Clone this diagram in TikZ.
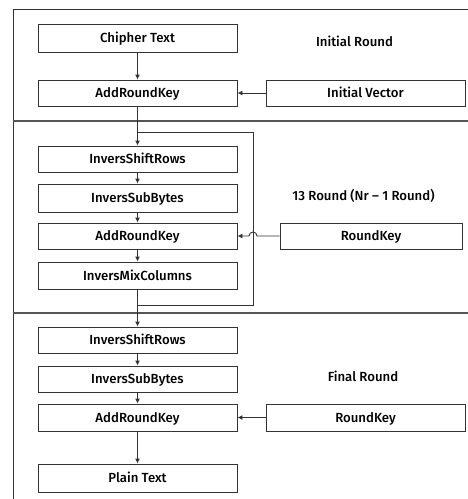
\documentclass[tikz,border=0pt]{standalone}
\usepackage{fontspec}
\setmainfont{Fira Sans}[UprightFont={* Medium}]
\usetikzlibrary{arrows.meta}
\definecolor{ln}{HTML}{333333}
\definecolor{sep}{HTML}{555555}
\tikzset{
  blk/.style={draw=ln, line width=0.9pt, minimum width=199pt, minimum height=26pt, inner sep=0pt, text height=9.1pt, text depth=0pt, font=\fontsize{13.2}{15}\selectfont},
  lbl/.style={font=\fontsize{13.2}{15}\selectfont, inner sep=0pt, text height=9.1pt, text depth=0pt},
  arr/.style={draw=ln, line width=0.9pt, -{Latex[length=5pt,width=5pt]}},
  wire/.style={draw=ln, line width=0.9pt},
  frame/.style={draw=ln, line width=1pt},
  sepline/.style={draw=sep, line width=1.6pt}
}
\begin{document}
\begin{tikzpicture}[x=1pt,y=-1pt]
\useasboundingbox (0,0) rectangle (468,499);
\clip (0,0) rectangle (468,499);
% frame
\draw[frame] (468,9) -- (13,9) -- (13,499);
\draw[sepline] (13,121) -- (468,121);
\draw[sepline] (13,313) -- (468,313);
% initial round
\node[blk, minimum height=28pt] (ct) at (137.5,38) {Chipher Text};
\node[blk] (ark1) at (137.5,93) {AddRoundKey};
\node[blk] (iv) at (365.5,93) {Initial Vector};
\node[lbl] (lab1) at (354.5,42) {Initial Round};
% middle rounds
\node[blk] (isr1) at (137.5,159) {InversShiftRows};
\node[blk, minimum height=28pt] (isb1) at (137.5,198) {InversSubBytes};
\node[blk] (ark2) at (137.5,236) {AddRoundKey};
\node[blk, minimum height=27pt] (imc) at (137.5,275.5) {InversMixColumns};
\node[blk, minimum width=182pt] (rk1) at (371,236) {RoundKey};
\node[lbl] (lab2) at (363.5,196) {13 Round (Nr -- 1 Round)};
% final round
\node[blk] (isr2) at (137.5,340) {InversShiftRows};
\node[blk] (isb2) at (137.5,379) {InversSubBytes};
\node[blk, minimum height=27pt] (ark3) at (137.5,417.5) {AddRoundKey};
\node[blk, minimum height=27pt] (rk2) at (365.5,417.5) {RoundKey};
\node[lbl] (lab3) at (363,377) {Final Round};
\node[blk, minimum height=28pt] (pt) at (137.5,478) {Plain Text};
% loop
\coordinate (lt) at (137.5,132);
\coordinate (lb) at (137.5,305);
\draw[wire] (lt) -- (253,132) -- (253,305) -- (lb);
% arrows
\draw[arr] (ct) -- (ark1);
\draw[arr] (iv) -- (ark1);
\draw[arr] (ark1) -- (isr1);
\draw[arr] (isr1) -- (isb1);
\draw[arr] (isb1) -- (ark2);
\draw[arr] (ark2) -- (imc);
\draw[arr] (imc) -- (isr2);
\draw[arr] (isr2) -- (isb2);
\draw[arr] (isb2) -- (ark3);
\draw[arr] (ark3) -- (pt);
\draw[arr] (rk2) -- (ark3);
\draw[arr] (rk1.west) -- (257,236) arc[start angle=0, end angle=-180, radius=4] -- (ark2.east);
\end{tikzpicture}
\end{document}
